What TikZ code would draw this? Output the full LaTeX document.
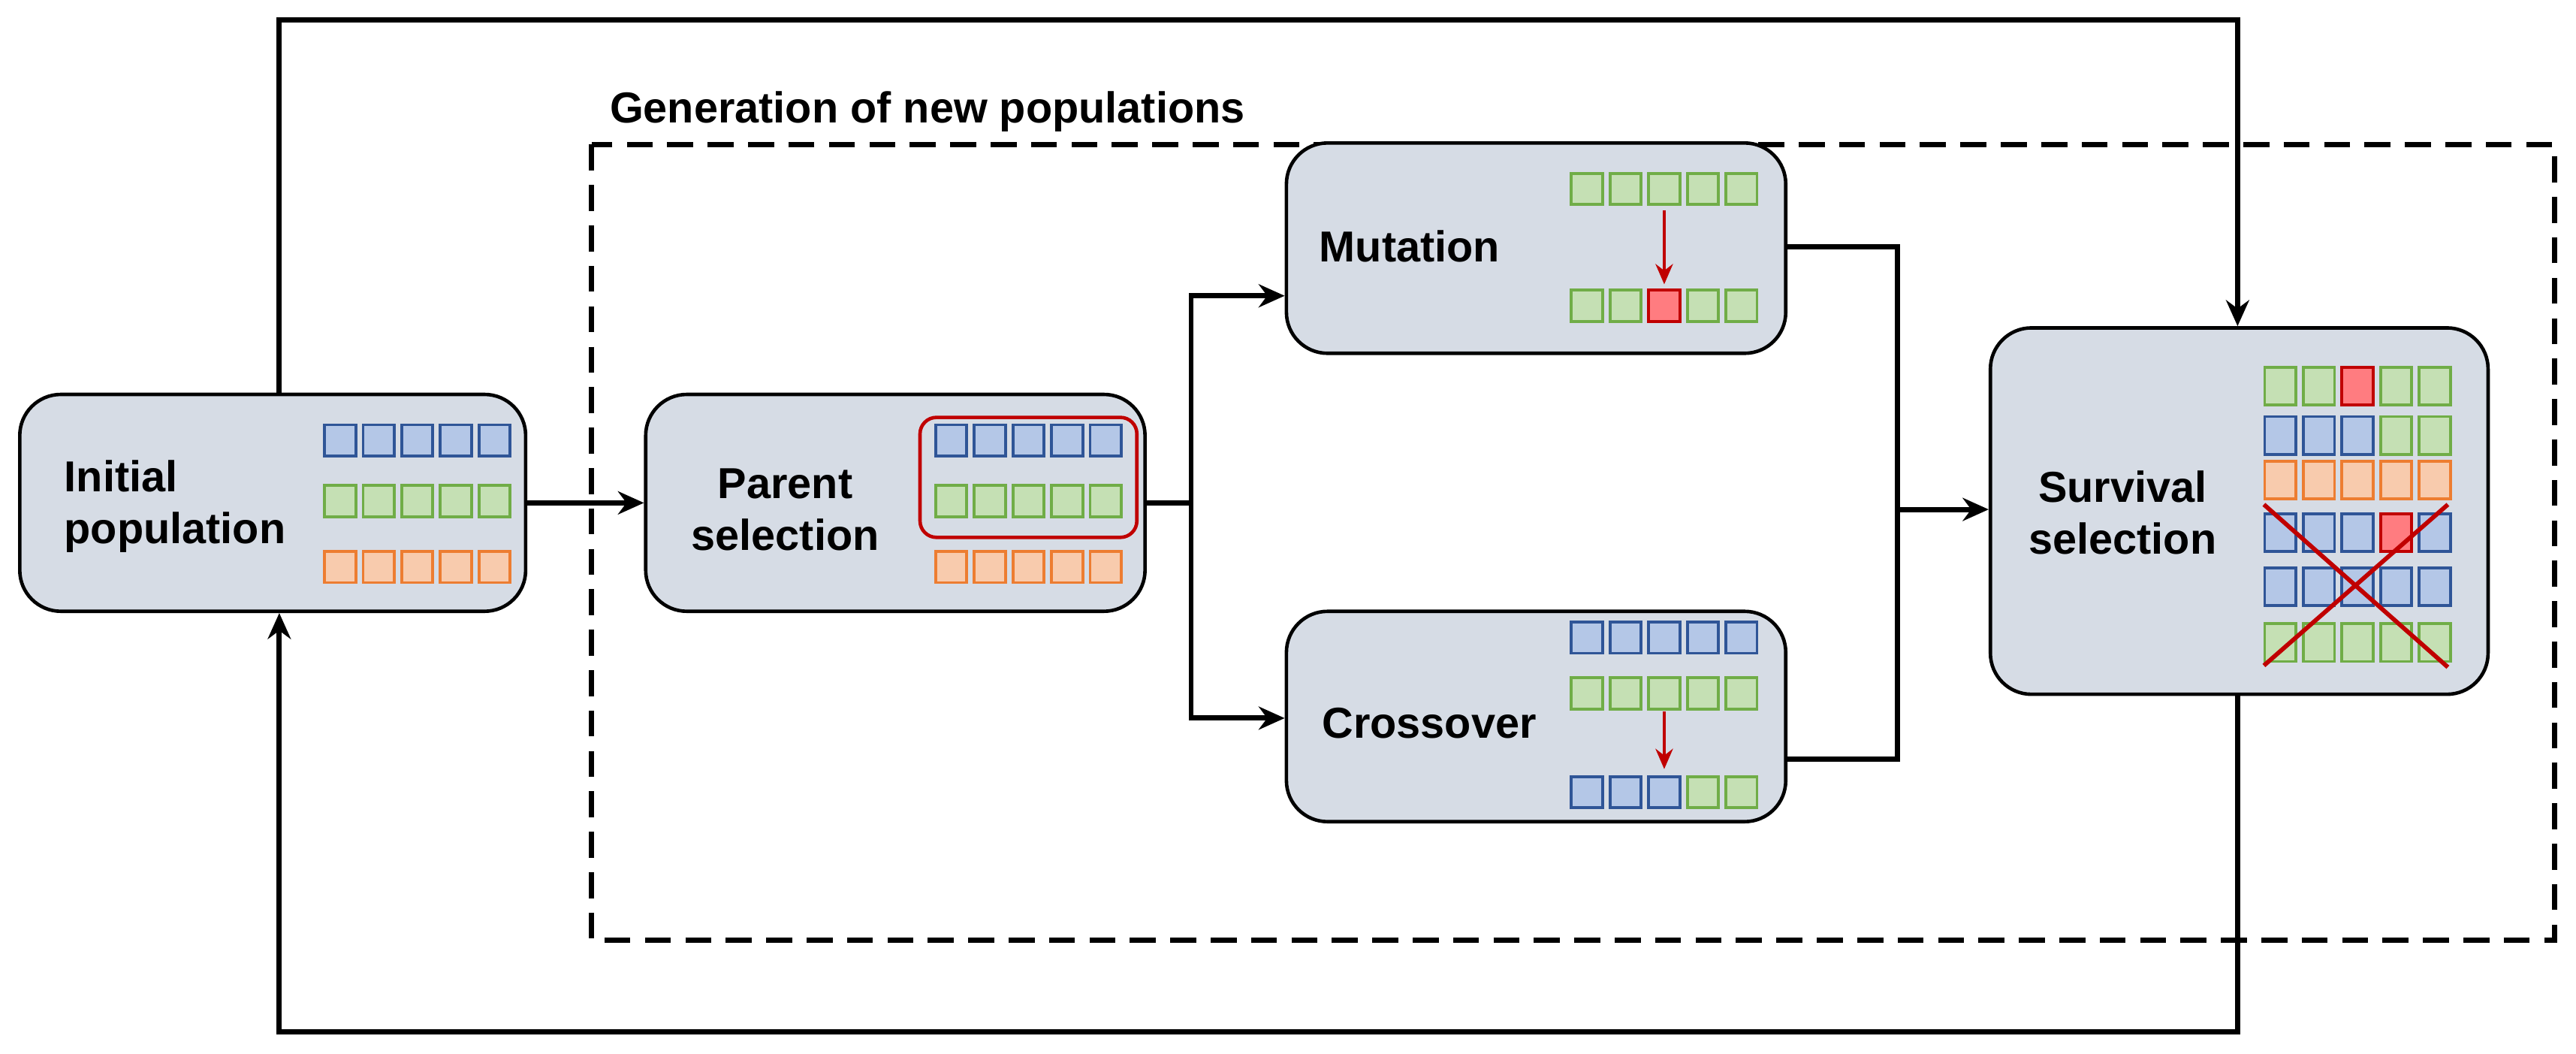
\documentclass[tikz,border=0pt]{standalone}
\usepackage{fontspec}
\setmainfont{Liberation Sans}
\usetikzlibrary{arrows.meta}
\definecolor{boxfill}{HTML}{D6DCE5}
\definecolor{bedge}{HTML}{2F5597}\definecolor{bfill}{HTML}{B4C7E7}
\definecolor{gedge}{HTML}{70AD47}\definecolor{gfill}{HTML}{C5E0B4}
\definecolor{oedge}{HTML}{ED7D31}\definecolor{ofill}{HTML}{F8CBAD}
\definecolor{redge}{HTML}{C00000}\definecolor{rfill}{HTML}{FF7C80}
\tikzset{
  stage/.style={draw, line width=1.2pt, fill=boxfill, rounded corners=0.5cm, minimum width=#1},
  label/.style={font=\bfseries\fontsize{15}{18}\selectfont, align=center},
  cell/.style={draw=#1edge, fill=#1fill, line width=1pt, minimum size=0.38cm, inner sep=0pt},
  flow/.style={line width=1.8pt, -{Stealth[length=9pt,width=8pt]}},
  pick/.style={draw=redge, line width=1.2pt, -{Stealth[length=7pt,width=6pt]}}
}
\newcommand\cellrow[4][23.5]{\foreach \c [count=\i from 0] in {#4} \node[cell=\c] at ({#2+\i*#1},#3) {};}
\begin{document}
\begin{tikzpicture}[x=0.02cm,y=-0.02cm]
\useasboundingbox (0,0) rectangle (1568,641);
% frame of the generation step
\draw[line width=1.8pt, dash pattern=on 9pt off 5pt] (360,88) rectangle (1555,572);
\node[label, anchor=west] (gen) at (365,68) {Generation of new populations};

% stages
\node[stage=6.16cm, minimum height=2.64cm] (init) at (166,306) {};
\node[stage=6.08cm, minimum height=2.64cm] (parent) at (545,306) {};
\node[stage=6.08cm, minimum height=2.56cm] (mut) at (935,151) {};
\node[stage=6.08cm, minimum height=2.56cm] (cross) at (935,436) {};
\node[stage=6.06cm, minimum height=4.46cm] (surv) at (1363,311) {};

\node[label, align=left, anchor=west] (initT) at (33,308) {Initial\\population};
\node[label] (parentT) at (478,310) {Parent\\selection};
\node[label] (mutT) at (858,150) {Mutation};
\node[label] (crossT) at (870,440) {Crossover};
\node[label] (survT) at (1292,312) {Survival\\selection};

% populations
\cellrow{207}{268}{b,b,b,b,b}
\cellrow{207}{305}{g,g,g,g,g}
\cellrow{207}{345}{o,o,o,o,o}
\cellrow{579}{268}{b,b,b,b,b}
\cellrow{579}{305}{g,g,g,g,g}
\cellrow{579}{345}{o,o,o,o,o}
\draw[redge, line width=1.2pt, rounded corners=0.2cm] (560,254) rectangle (692,327);
\cellrow{966}{115}{g,g,g,g,g}
\cellrow{966}{186}{g,g,r,g,g}
\draw[pick] (1013,128) -- (1013,173);
\cellrow{966}{388}{b,b,b,b,b}
\cellrow{966}{422}{g,g,g,g,g}
\cellrow{966}{482}{b,b,b,g,g}
\draw[pick] (1013,433) -- (1013,468);
\begin{scope}[cell/.append style={minimum height=0.46cm}]
\cellrow{1388}{235}{g,g,r,g,g}
\cellrow{1388}{265}{b,b,b,g,g}
\cellrow{1388}{292}{o,o,o,o,o}
\cellrow{1388}{324}{b,b,b,r,b}
\cellrow{1388}{357}{b,b,b,b,b}
\cellrow{1388}{391}{g,g,g,g,g}
\end{scope}
\draw[redge, line width=1.5pt] (1378,307) -- (1490,406) (1490,307) -- (1378,405);

% connectors
\coordinate (split) at (725,306);
\coordinate (join) at (1155,310);
\draw[flow] (init.east) -- (parent.west);
\draw[line width=1.8pt] (parent.east) -- (split);
\draw[flow] (split) |- (mut.west |- 0,180);
\draw[flow] (split) |- (cross.west |- 0,437);
\draw[line width=1.8pt] (mut.east |- 0,150) -| (join) |- (cross.east |- 0,462);
\draw[flow] (join) -- (surv.west |- join);
\draw[flow] (init.north -| 170,0) |- (1362,12) -- (surv.north -| 1362,0);
\draw[flow] (surv.south -| 1362,0) |- (170,628) -- (init.south -| 170,0);
\end{tikzpicture}
\end{document}
